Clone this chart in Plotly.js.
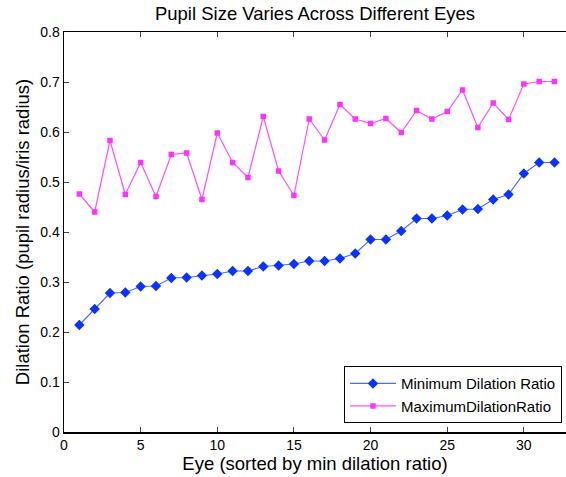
<!DOCTYPE html>
<html><head><meta charset="utf-8">
<script src="https://cdn.plot.ly/plotly-3.0.1.min.js"></script>
<style>html,body{margin:0;padding:0;background:#fff}#plot{width:566px;height:477px}</style>
</head><body><div id="plot"></div>
<script>
var eyes = [1,2,3,4,5,6,7,8,9,10,11,12,13,14,15,16,17,18,19,20,21,22,23,24,25,26,27,28,29,30,31,32];
var minRatio = [0.214,0.246,0.278,0.279,0.291,0.292,0.308,0.309,0.313,0.316,0.322,0.322,0.331,0.333,0.336,0.342,
                0.342,0.347,0.357,0.385,0.385,0.402,0.427,0.427,0.433,0.445,0.446,0.465,0.475,0.517,0.539,0.539];
var maxRatio = [0.476,0.440,0.583,0.475,0.539,0.471,0.555,0.558,0.465,0.598,0.539,0.509,0.631,0.522,0.473,0.626,
                0.584,0.655,0.626,0.617,0.627,0.599,0.643,0.626,0.641,0.684,0.609,0.658,0.625,0.696,0.701,0.701];
var yTicks = [0,0.1,0.2,0.3,0.4,0.5,0.6,0.7,0.8];
var yTickText = ['0','0.1','0.2','0.3','0.4','0.5','0.6','0.7','0.8'];
var xTicks = [0,5,10,15,20,25,30];

var font = 'Liberation Sans, Arial, Helvetica, sans-serif';
var traces = [
  {x: eyes, y: minRatio, name: 'Minimum Dilation Ratio', mode: 'lines+markers', type: 'scatter',
   line: {color: '#4a6cff', width: 1.2}, marker: {symbol: 'diamond', size: 8, color: '#0a33ff'}},
  {x: eyes, y: maxRatio, name: 'MaximumDilationRatio', mode: 'lines+markers', type: 'scatter',
   line: {color: '#ff50ff', width: 1.2}, marker: {symbol: 'square', size: 5.5, color: '#ff33ff'}}
];
var layout = {
  width: 566, height: 477,
  margin: {l: 64, r: 0, t: 32, b: 45},
  paper_bgcolor: '#fff', plot_bgcolor: '#fff',
  font: {family: font, color: '#000', size: 14},
  title: {text: 'Pupil Size Varies Across Different Eyes', font: {size: 18.5}, x: 0.5, xanchor: 'center', y: 0.972, yanchor: 'middle', xref: 'paper'},
  xaxis: {range: [0, 32.75], tickvals: xTicks, ticktext: xTicks.map(String), ticks: 'inside', ticklen: 5,
          showline: true, linecolor: '#000', linewidth: 1.5, mirror: 'ticks', showgrid: false, zeroline: false, automargin: false,
          title: {text: 'Eye (sorted by min dilation ratio)', font: {size: 18.5}, standoff: 2}, tickfont: {size: 14}},
  yaxis: {range: [0, 0.8], tickvals: yTicks, ticktext: yTickText, ticks: 'inside', ticklen: 5,
          showline: true, linecolor: '#000', linewidth: 1.5, showgrid: false, zeroline: false, automargin: false,
          title: {text: 'Dilation Ratio (pupil radius/iris radius)', font: {size: 18.5}, standoff: 6}, tickfont: {size: 14}},
  legend: {x: 0.992, y: 0.022, xanchor: 'right', yanchor: 'bottom', bgcolor: '#fff', bordercolor: '#000', borderwidth: 1,
           font: {size: 15}, tracegroupgap: 0, itemwidth: 46},
  showlegend: true
};
Plotly.newPlot('plot', traces, layout, {displayModeBar: false, staticPlot: true});
</script></body></html>
